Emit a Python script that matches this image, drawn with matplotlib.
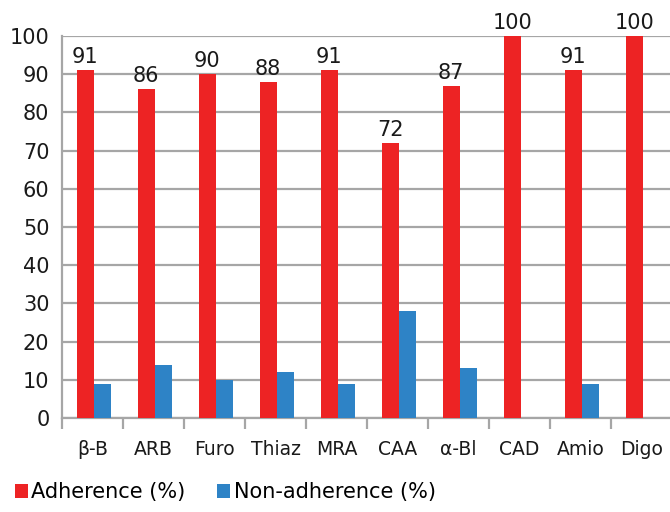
import matplotlib
matplotlib.use("Agg")
import matplotlib.pyplot as plt
import numpy as np

categories = ["β-B", "ARB", "Furo", "Thiaz", "MRA", "CAA", "α-Bl", "CAD", "Amio", "Digo"]
adherence = [91, 86, 90, 88, 91, 72, 87, 100, 91, 100]
non_adherence = [9, 14, 10, 12, 9, 28, 13, 0, 9, 0]

red = "#ED2324"
blue = "#2E83C6"
grid_grey = "#A6A6A6"

plt.rcParams['font.family'] = ['DejaVu Sans']

fig = plt.figure(figsize=(6.7, 5.12), dpi=100)
ax = fig.add_axes([62 / 670, 1 - 418 / 512, 610 / 670, (418 - 36) / 512])

x = np.arange(len(categories))
w = 0.28
b1 = ax.bar(x - w / 2 + 0.02, adherence, w, color=red, label="Adherence (%)", zorder=3)
b2 = ax.bar(x + w / 2 + 0.02, non_adherence, w, color=blue, label="Non-adherence (%)", zorder=3)

for rect, v in zip(b1, adherence):
    ax.text(rect.get_x() + rect.get_width() / 2, v + 0.8, str(v),
            ha="center", va="bottom", fontsize=15, color="#1a1a1a")

ax.set_xlim(-0.5, 9.5)
ax.set_ylim(0, 100)
ax.set_yticks(range(0, 101, 10))
ax.yaxis.grid(True, color=grid_grey, linewidth=1.6, zorder=0)
ax.set_axisbelow(True)

ax.set_xticks(x)
ax.set_xticklabels(categories, fontsize=13.5)
ax.set_xticks(np.arange(-0.5, 10, 1), minor=True)
ax.tick_params(axis="x", which="major", length=0, pad=16, colors="#1a1a1a")
ax.tick_params(axis="x", which="minor", length=8, width=1.6, color=grid_grey)
ax.tick_params(axis="y", length=0, pad=9, labelsize=15, colors="#1a1a1a")

for side in ["top", "right"]:
    ax.spines[side].set_visible(False)
for side in ["left", "bottom"]:
    ax.spines[side].set_color(grid_grey)
    ax.spines[side].set_linewidth(1.6)

fig.legend(handles=[b1, b2], loc="lower left", bbox_to_anchor=(-0.006, -0.018), ncol=2,
           frameon=False, fontsize=15, handlelength=0.65, handleheight=0.65,
           handletextpad=0.15, columnspacing=1.5)

fig.savefig("out.png", dpi=100)
